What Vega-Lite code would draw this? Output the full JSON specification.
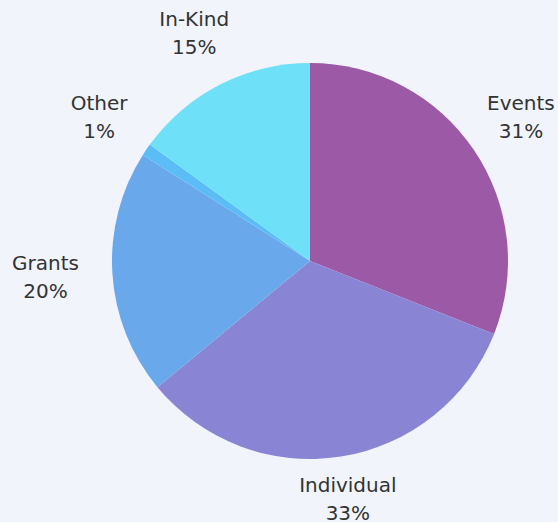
{
  "$schema": "https://vega.github.io/schema/vega-lite/v6.json",
  "autosize": "none",
  "width": 496,
  "height": 522,
  "padding": {"left": 62, "top": 0, "right": 0, "bottom": 0},
  "background": "#F1F4FB",
  "config": {"view": {"stroke": null}, "text": {"fontSize": 20, "font": "DejaVu Sans", "color": "#333333"}},
  "data": {
    "values": [
      {"idx": 1, "category": "Events", "value": 31, "pct": "31%"},
      {"idx": 2, "category": "Individual", "value": 33, "pct": "33%"},
      {"idx": 3, "category": "Grants", "value": 20, "pct": "20%"},
      {"idx": 4, "category": "Other", "value": 1, "pct": "1%"},
      {"idx": 5, "category": "In-Kind", "value": 15, "pct": "15%"}
    ]
  },
  "encoding": {
    "theta": {"field": "value", "type": "quantitative", "stack": true},
    "order": {"field": "idx", "type": "quantitative", "sort": "ascending"}
  },
  "layer": [
    {
      "mark": {"type": "arc", "outerRadius": 198},
      "encoding": {
        "color": {
          "field": "category",
          "type": "nominal",
          "scale": {
            "domain": ["Events", "Individual", "Grants", "Other", "In-Kind"],
            "range": ["#9B59A6", "#8A84D4", "#6AA8EC", "#5BBDF5", "#6EE1F8"]
          },
          "legend": null
        }
      }
    },
    {
      "mark": {"type": "text", "radius": 255, "dy": -14},
      "encoding": {
        "text": {"field": "category", "type": "nominal"},
        "opacity": {"condition": {"test": "indexof(['Events','Other','In-Kind'], datum.category) >= 0", "value": 1}, "value": 0}
      }
    },
    {
      "mark": {"type": "text", "radius": 255, "dy": 14},
      "encoding": {
        "text": {"field": "pct", "type": "nominal"},
        "opacity": {"condition": {"test": "indexof(['Events','Other','In-Kind'], datum.category) >= 0", "value": 1}, "value": 0}
      }
    },
    {
      "mark": {"type": "text", "radius": 242, "dy": -14},
      "encoding": {
        "text": {"field": "category", "type": "nominal"},
        "opacity": {"condition": {"test": "datum.category == 'Individual'", "value": 1}, "value": 0}
      }
    },
    {
      "mark": {"type": "text", "radius": 242, "dy": 14},
      "encoding": {
        "text": {"field": "pct", "type": "nominal"},
        "opacity": {"condition": {"test": "datum.category == 'Individual'", "value": 1}, "value": 0}
      }
    },
    {
      "mark": {"type": "text", "radius": 265, "dy": -14},
      "encoding": {
        "text": {"field": "category", "type": "nominal"},
        "opacity": {"condition": {"test": "datum.category == 'Grants'", "value": 1}, "value": 0}
      }
    },
    {
      "mark": {"type": "text", "radius": 265, "dy": 14},
      "encoding": {
        "text": {"field": "pct", "type": "nominal"},
        "opacity": {"condition": {"test": "datum.category == 'Grants'", "value": 1}, "value": 0}
      }
    }
  ]
}
